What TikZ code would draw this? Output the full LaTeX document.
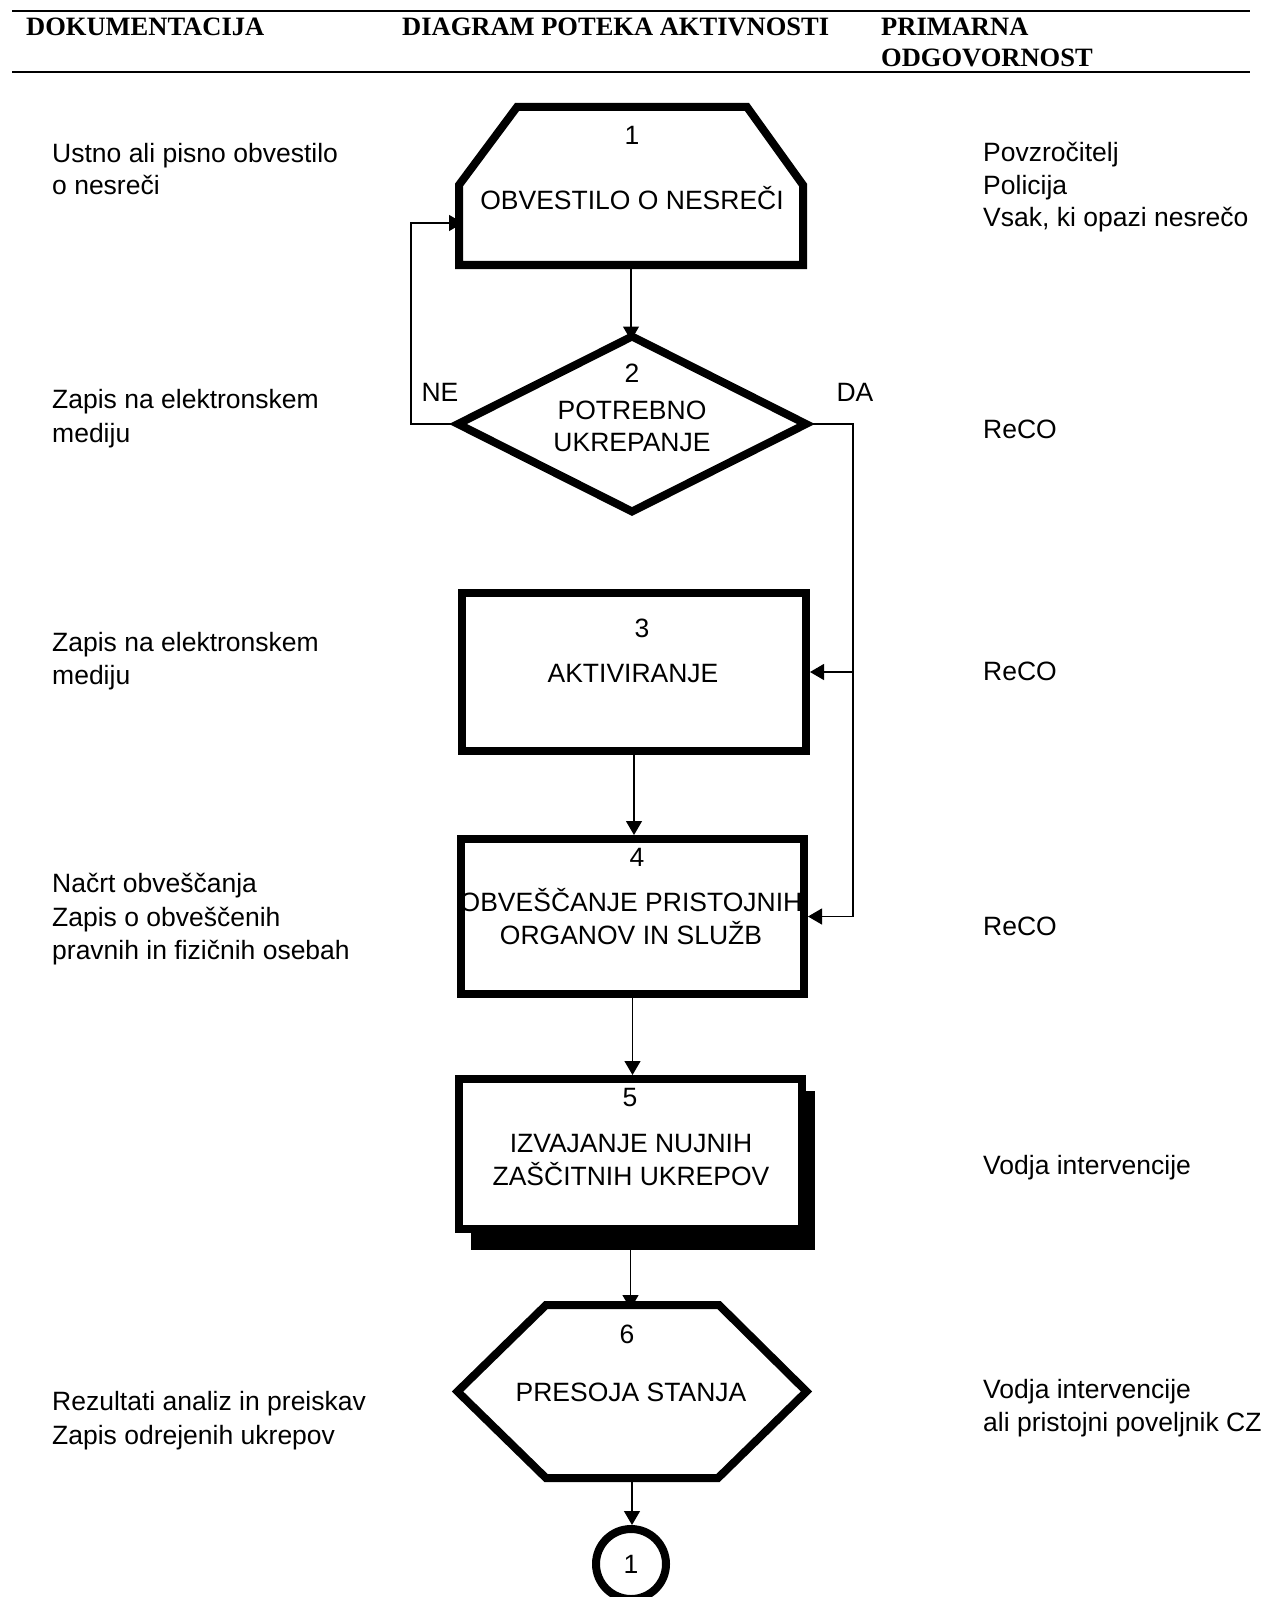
\documentclass[tikz,border=0pt]{standalone}
\usepackage{fontspec}
\setmainfont{Liberation Sans}
\newfontfamily\hdrfont{Liberation Serif}
\usetikzlibrary{arrows.meta,calc}
\begin{document}
\begin{tikzpicture}[x=1pt,y=-1pt,
  every node/.style={font=\fontsize{26.5}{32.5}\selectfont, inner sep=0pt},
  lbl/.style={anchor=base west},
  ctr/.style={anchor=base},
  hdr/.style={anchor=base west, font=\hdrfont\bfseries\fontsize{26.5}{31}\selectfont},
  shp/.style={draw, line width=8pt, line join=miter, fill=white},
  ghost/.style={rectangle, inner sep=0pt, outer sep=0pt},
  box/.style={draw, line width=8pt, rectangle, fill=white},
  conn/.style={line width=1.2pt, -{Triangle[length=14pt,width=16pt]}},
  connx/.style={conn, shorten >=-4pt},
  plain/.style={line width=1.2pt},
  rule/.style={line width=2.5pt},
]
\useasboundingbox (0,0) rectangle (1271,1597);
\fill[white] (0,0) rectangle (1271,1597);

% header
\coordinate (hl1) at (12,11);
\coordinate (hr1) at (1250,11);
\coordinate (hl2) at (12,72);
\coordinate (hr2) at (1250,72);
\draw[rule] (hl1) -- (hr1);
\draw[rule] (hl2) -- (hr2);
\node[hdr] (h1) at (26,36) {DOKUMENTACIJA};
\node[hdr] (h2) at (402,36) {DIAGRAM POTEKA AKTIVNOSTI};
\node[hdr] (h3) at (881,36) {PRIMARNA};
\node[hdr] (h4) at (881,67) {ODGOVORNOST};

% shape nodes (geometry)
\node[ghost, minimum width=344pt, minimum height=158pt] (n1) at (631,186) {};
\node[ghost, minimum width=348pt, minimum height=175pt] (n2) at (632,424) {};
\node[box, minimum width=344pt, minimum height=158pt] (n3) at (634,672) {};
\node[box, minimum width=343pt, minimum height=155pt] (n4) at (632.5,916.5) {};
\fill (471,1091) rectangle (815,1250);
\node[box, minimum width=343pt, minimum height=150pt] (n5) at (630.5,1154) {};
\node[ghost, minimum width=349pt, minimum height=173pt] (n6) at (632,1391.5) {};
\node[circle, draw, line width=8pt, minimum size=70pt, fill=white] (n7) at (631,1564) {1};

% outlines
\draw[shp] (n1.south west) -- ($(n1.north west)+(0,78)$) -- ($(n1.north west)+(58,0)$)
  -- ($(n1.north east)+(-56,0)$) -- ($(n1.north east)+(0,78)$) -- (n1.south east) -- cycle;
\draw[shp] (n2.north) -- (n2.east) -- (n2.south) -- (n2.west) -- cycle;
\draw[shp] (n6.west) -- ($(n6.north)+(-86,0)$) -- ($(n6.north)+(87,0)$) -- (n6.east)
  -- ($(n6.south)+(86,0)$) -- ($(n6.south)+(-86,0)$) -- cycle;

% texts in shapes
\node[ctr] (t1a) at (632,144.5) {1};
\node[ctr] (t1b) at (632,209.5) {OBVESTILO O NESREČI};
\node[ctr] (t2a) at (632,382) {2};
\node[ctr] (t2b) at (632,419) {POTREBNO};
\node[ctr] (t2c) at (632,451.5) {UKREPANJE};
\node[ctr] (t3a) at (642,637.5) {3};
\node[ctr] (t3b) at (633,682.5) {AKTIVIRANJE};
\node[ctr] (t4a) at (637,866) {4};
\node[ctr] (t4b) at (631,911.5) {OBVEŠČANJE PRISTOJNIH};
\node[ctr] (t4c) at (631,944) {ORGANOV IN SLUŽB};
\node[ctr] (t5a) at (630,1106) {5};
\node[ctr] (t5b) at (631,1152.5) {IZVAJANJE NUJNIH};
\node[ctr] (t5c) at (631,1185) {ZAŠČITNIH UKREPOV};
\node[ctr] (t6a) at (627,1343) {6};
\node[ctr] (t6b) at (631,1401) {PRESOJA STANJA};
% redraw box 4 border over overflowing text
\draw[line width=8pt] ($(n4.south west)+(4,-4)$) rectangle ($(n4.north east)+(-4,4)$);

% connectors
\coordinate (n1in) at ($(n1.west)+(0,37)$);
\draw[conn, shorten >=-4pt] (n1.south) -- (n1.south |- n2.north);
\draw[connx] (n2.west) -- ++(-47,0) coordinate (ne) |- (n1in);
\draw[plain] (n2.east) -- ++(47,0) coordinate (da) -- (da |- n4.east);
\draw[conn] (da |- n3.east) -- (n3.east);
\draw[conn] (da |- n4.east) -- (n4.east);
\draw[conn] (n3.south) -- (n3.south |- n4.north);
\draw[conn] (n4.south) -- (n4.south |- n5.north);
\coordinate (n5sh) at (630.5,1250);
\draw[connx] (n5sh) -- (n5sh |- n6.north);
\draw[conn, shorten <=-4pt] (n6.south) -- (n6.south |- n7.north);

\node[ctr] (ne lbl) at (440,401.5) {NE};
\node[ctr] (da lbl) at (855,401.5) {DA};

% left column
\node[lbl] (l1a) at (52,162.5) {Ustno ali pisno obvestilo};
\node[lbl] (l1b) at (52,195) {o nesreči};
\node[lbl] (l2a) at (52,408.5) {Zapis na elektronskem};
\node[lbl] (l2b) at (52,442) {mediju};
\node[lbl] (l3a) at (52,651.5) {Zapis na elektronskem};
\node[lbl] (l3b) at (52,684) {mediju};
\node[lbl] (l4a) at (52,892.5) {Načrt obveščanja};
\node[lbl] (l4b) at (52,926) {Zapis o obveščenih};
\node[lbl] (l4c) at (52,959) {pravnih in fizičnih osebah};
\node[lbl] (l6a) at (52,1410.5) {Rezultati analiz in preiskav};
\node[lbl] (l6b) at (52,1444) {Zapis odrejenih ukrepov};

% right column
\node[lbl] (r1a) at (983,162) {Povzročitelj};
\node[lbl] (r1b) at (983,194.5) {Policija};
\node[lbl] (r1c) at (983,227) {Vsak, ki opazi nesrečo};
\node[lbl] (r2) at (983,438.5) {ReCO};
\node[lbl] (r3) at (983,680.5) {ReCO};
\node[lbl] (r4) at (983,935.5) {ReCO};
\node[lbl] (r5) at (983,1174.5) {Vodja intervencije};
\node[lbl] (r6a) at (983,1398) {Vodja intervencije};
\node[lbl] (r6b) at (983,1431) {ali pristojni poveljnik CZ};
\end{tikzpicture}
\end{document}
